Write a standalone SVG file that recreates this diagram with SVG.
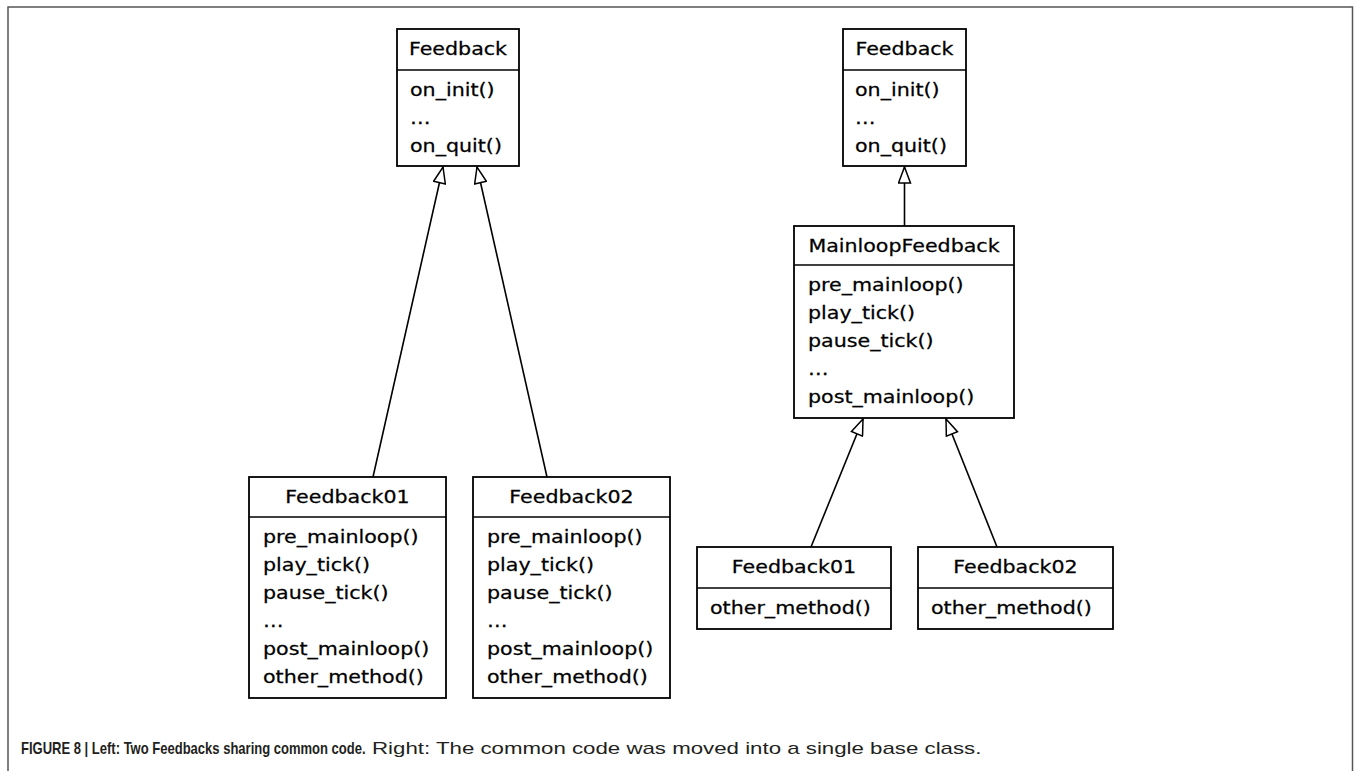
<svg xmlns="http://www.w3.org/2000/svg" width="1357" height="771" viewBox="0 0 1357 771">
<defs>
<style>
.box{fill:#fff;stroke:#000;stroke-width:1.8}
.sep{stroke:#000;stroke-width:1.6}
.t{font-family:"DejaVu Sans",sans-serif;font-size:17.5px;fill:#000;stroke:#000;stroke-width:0.25}
.c{text-anchor:middle}
.edge{stroke:#000;stroke-width:1.6;fill:none;marker-end:url(#tri)}
.cap{font-family:"Liberation Sans",Arial,sans-serif;font-size:17px;fill:#231f20}
</style>
<marker id="tri" markerUnits="userSpaceOnUse" markerWidth="20" markerHeight="14" refX="16" refY="6" orient="auto" viewBox="-1 -1 18 14">
<path d="M0,0 L16,6 L0,12 z" fill="#fff" stroke="#000" stroke-width="1.5"/>
</marker>
</defs>
<rect width="1357" height="771" fill="#fff"/>
<path d="M8,780 L8,7 L1352.5,7 L1352.5,780" fill="none" stroke="#555" stroke-width="1.5"/>

<g id="connectors">
<line class="edge" x1="373" y1="477" x2="443" y2="167"/>
<line class="edge" x1="547" y1="477" x2="477" y2="167"/>
<line class="edge" x1="904.5" y1="226" x2="904.5" y2="167"/>
<line class="edge" x1="811" y1="547" x2="863" y2="419"/>
<line class="edge" x1="997" y1="547" x2="946" y2="419"/>
</g>

<g id="feedback-left">
<rect class="box" x="397" y="29" width="122" height="137"/>
<line class="sep" x1="397" y1="70" x2="519" y2="70"/>
<text class="t c" transform="translate(458,55) scale(1.177,1)">Feedback</text>
<text class="t" transform="translate(410,96) scale(1.177,1)">on_init()</text>
<text class="t" transform="translate(410,124) scale(1.177,1)">…</text>
<text class="t" transform="translate(410,152) scale(1.177,1)">on_quit()</text>
</g>

<g id="feedback01-left">
<rect class="box" x="249" y="477" width="197" height="221"/>
<line class="sep" x1="249" y1="517" x2="446" y2="517"/>
<text class="t c" transform="translate(347.5,503) scale(1.177,1)">Feedback01</text>
<text class="t" transform="translate(263,543) scale(1.177,1)">pre_mainloop()</text>
<text class="t" transform="translate(263,571) scale(1.177,1)">play_tick()</text>
<text class="t" transform="translate(263,599) scale(1.177,1)">pause_tick()</text>
<text class="t" transform="translate(263,627) scale(1.177,1)">…</text>
<text class="t" transform="translate(263,655) scale(1.177,1)">post_mainloop()</text>
<text class="t" transform="translate(263,683) scale(1.177,1)">other_method()</text>
</g>

<g id="feedback02-left">
<rect class="box" x="473" y="477" width="197" height="221"/>
<line class="sep" x1="473" y1="517" x2="670" y2="517"/>
<text class="t c" transform="translate(571.5,503) scale(1.177,1)">Feedback02</text>
<text class="t" transform="translate(487,543) scale(1.177,1)">pre_mainloop()</text>
<text class="t" transform="translate(487,571) scale(1.177,1)">play_tick()</text>
<text class="t" transform="translate(487,599) scale(1.177,1)">pause_tick()</text>
<text class="t" transform="translate(487,627) scale(1.177,1)">…</text>
<text class="t" transform="translate(487,655) scale(1.177,1)">post_mainloop()</text>
<text class="t" transform="translate(487,683) scale(1.177,1)">other_method()</text>
</g>

<g id="feedback-right">
<rect class="box" x="843" y="29" width="123" height="137"/>
<line class="sep" x1="843" y1="70" x2="966" y2="70"/>
<text class="t c" transform="translate(904.5,55) scale(1.177,1)">Feedback</text>
<text class="t" transform="translate(855,96) scale(1.177,1)">on_init()</text>
<text class="t" transform="translate(855,124) scale(1.177,1)">…</text>
<text class="t" transform="translate(855,152) scale(1.177,1)">on_quit()</text>
</g>

<g id="mainloopfeedback">
<rect class="box" x="794" y="226" width="220" height="192"/>
<line class="sep" x1="794" y1="265" x2="1014" y2="265"/>
<text class="t c" transform="translate(904,252) scale(1.177,1)">MainloopFeedback</text>
<text class="t" transform="translate(808,291) scale(1.177,1)">pre_mainloop()</text>
<text class="t" transform="translate(808,319) scale(1.177,1)">play_tick()</text>
<text class="t" transform="translate(808,347) scale(1.177,1)">pause_tick()</text>
<text class="t" transform="translate(808,375) scale(1.177,1)">…</text>
<text class="t" transform="translate(808,403) scale(1.177,1)">post_mainloop()</text>
</g>

<g id="feedback01-right">
<rect class="box" x="697" y="547" width="194" height="82"/>
<line class="sep" x1="697" y1="588" x2="891" y2="588"/>
<text class="t c" transform="translate(794,573) scale(1.177,1)">Feedback01</text>
<text class="t" transform="translate(710,614) scale(1.177,1)">other_method()</text>
</g>

<g id="feedback02-right">
<rect class="box" x="918" y="547" width="195" height="82"/>
<line class="sep" x1="918" y1="588" x2="1113" y2="588"/>
<text class="t c" transform="translate(1015.5,573) scale(1.177,1)">Feedback02</text>
<text class="t" transform="translate(931,614) scale(1.177,1)">other_method()</text>
</g>

<g id="caption">
<text class="cap" transform="translate(21,754) scale(0.766,1)" font-weight="bold" fill="#000">FIGURE 8 | Left: Two Feedbacks sharing common code.</text>
<text class="cap" transform="translate(372,754) scale(1.31,1)">Right: The common code was moved into a single base class.</text>
</g>
</svg>
